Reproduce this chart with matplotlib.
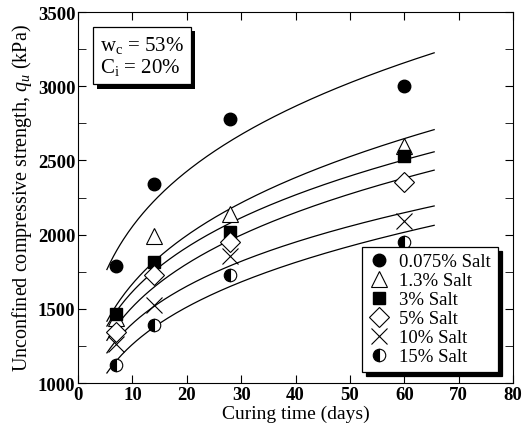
import numpy as np
import matplotlib
matplotlib.use("Agg")
import matplotlib.pyplot as plt
import matplotlib.patheffects as pe

plt.rcParams['font.family'] = ['Liberation Serif', 'DejaVu Serif']
plt.rcParams['mathtext.fontset'] = 'custom'
plt.rcParams['mathtext.it'] = 'Liberation Serif:italic'
plt.rcParams['mathtext.rm'] = 'Liberation Serif'

# curing times (days)
days = [7, 14, 28, 60]

# unconfined compressive strength qu (kPa) per salt content
qu_0075 = [1790, 2340, 2780, 3000]
qu_13 = [1440, 1993, 2139, 2599]
qu_3 = [1465, 1813, 2015, 2528]
qu_5 = [1342, 1728, 1948, 2357]
qu_10 = [1265, 1526, 1858, 2094]
qu_15 = [1123, 1391, 1728, 1952]

labels = ["0.075% Salt", "1.3% Salt", "3% Salt", "5% Salt", "10% Salt", "15% Salt"]
series = [qu_0075, qu_13, qu_3, qu_5, qu_10, qu_15]

styles = [
    dict(marker="o", color="k", markersize=9),
    dict(marker="^", color="k", markerfacecolor="white", markersize=11, markeredgewidth=0.8),
    dict(marker="s", color="k", markersize=9),
    dict(marker="D", color="k", markerfacecolor="white", markersize=10, markeredgewidth=0.8),
    dict(marker="x", color="k", markersize=11, markeredgewidth=0.8),
    dict(marker="o", color="k", markerfacecolor="k", markerfacecoloralt="white",
         fillstyle="left", markersize=9, markeredgewidth=0.8),
]

fig = plt.figure(figsize=(5.24, 4.35), dpi=100)
ax = fig.add_axes([0.149, 0.117, 0.830, 0.853])

# power-law fit lines qu = a * t^b
t_fit = np.linspace(5.3, 65.5, 200)
for vals in series:
    b, ln_a = np.polyfit(np.log(days), np.log(vals), 1)
    ax.plot(t_fit, np.exp(ln_a) * t_fit ** b, color="k", lw=0.9, zorder=2)

handles = []
for vals, lab, st in zip(series, labels, styles):
    h, = ax.plot(days, vals, linestyle="none", label=lab, zorder=3, **st)
    handles.append(h)

ax.set_xlim(0, 80)
ax.set_ylim(1000, 3500)
ax.set_xticks(np.arange(0, 81, 10))
ax.set_yticks(np.arange(1000, 3501, 500))
ax.set_yticks(np.arange(1000, 3501, 250), minor=True)
ax.tick_params(which="both", direction="in", top=True, right=True, labelsize=13.5)
ax.tick_params(which="major", length=6, pad=2)
ax.tick_params(which="minor", length=6)
for lbl in ax.get_xticklabels() + ax.get_yticklabels():
    lbl.set_fontweight("bold")

ax.set_xlabel("Curing time (days)", fontsize=14, labelpad=1)
ax.set_ylabel("Unconfined compressive strength, $\\mathit{q_u}$ (kPa)", fontsize=14.5, labelpad=3)

txt = ax.text(0.05, 0.94, "w$_\\mathrm{c}$ = 53%\nC$_\\mathrm{i}$ = 20%", transform=ax.transAxes,
              fontsize=15, va="top", ha="left", linespacing=1.05,
              bbox=dict(boxstyle="square,pad=0.35", fc="white", ec="k", lw=0.9))
txt.get_bbox_patch().set_path_effects([
    pe.SimplePatchShadow(offset=(3, -3), shadow_rgbFace="k", alpha=1.0), pe.Normal()])

leg = ax.legend(handles=handles, loc="lower right", bbox_to_anchor=(0.965, 0.03),
                fontsize=13.5, frameon=True, fancybox=False, edgecolor="k",
                shadow={"color": "k", "alpha": 1.0, "ox": 3, "oy": -3},
                handlelength=1.1, handletextpad=0.55, labelspacing=0.1, borderpad=0.35,
                borderaxespad=0.0, numpoints=1)
leg.get_frame().set_linewidth(0.9)

fig.savefig("out.png", dpi=100)
